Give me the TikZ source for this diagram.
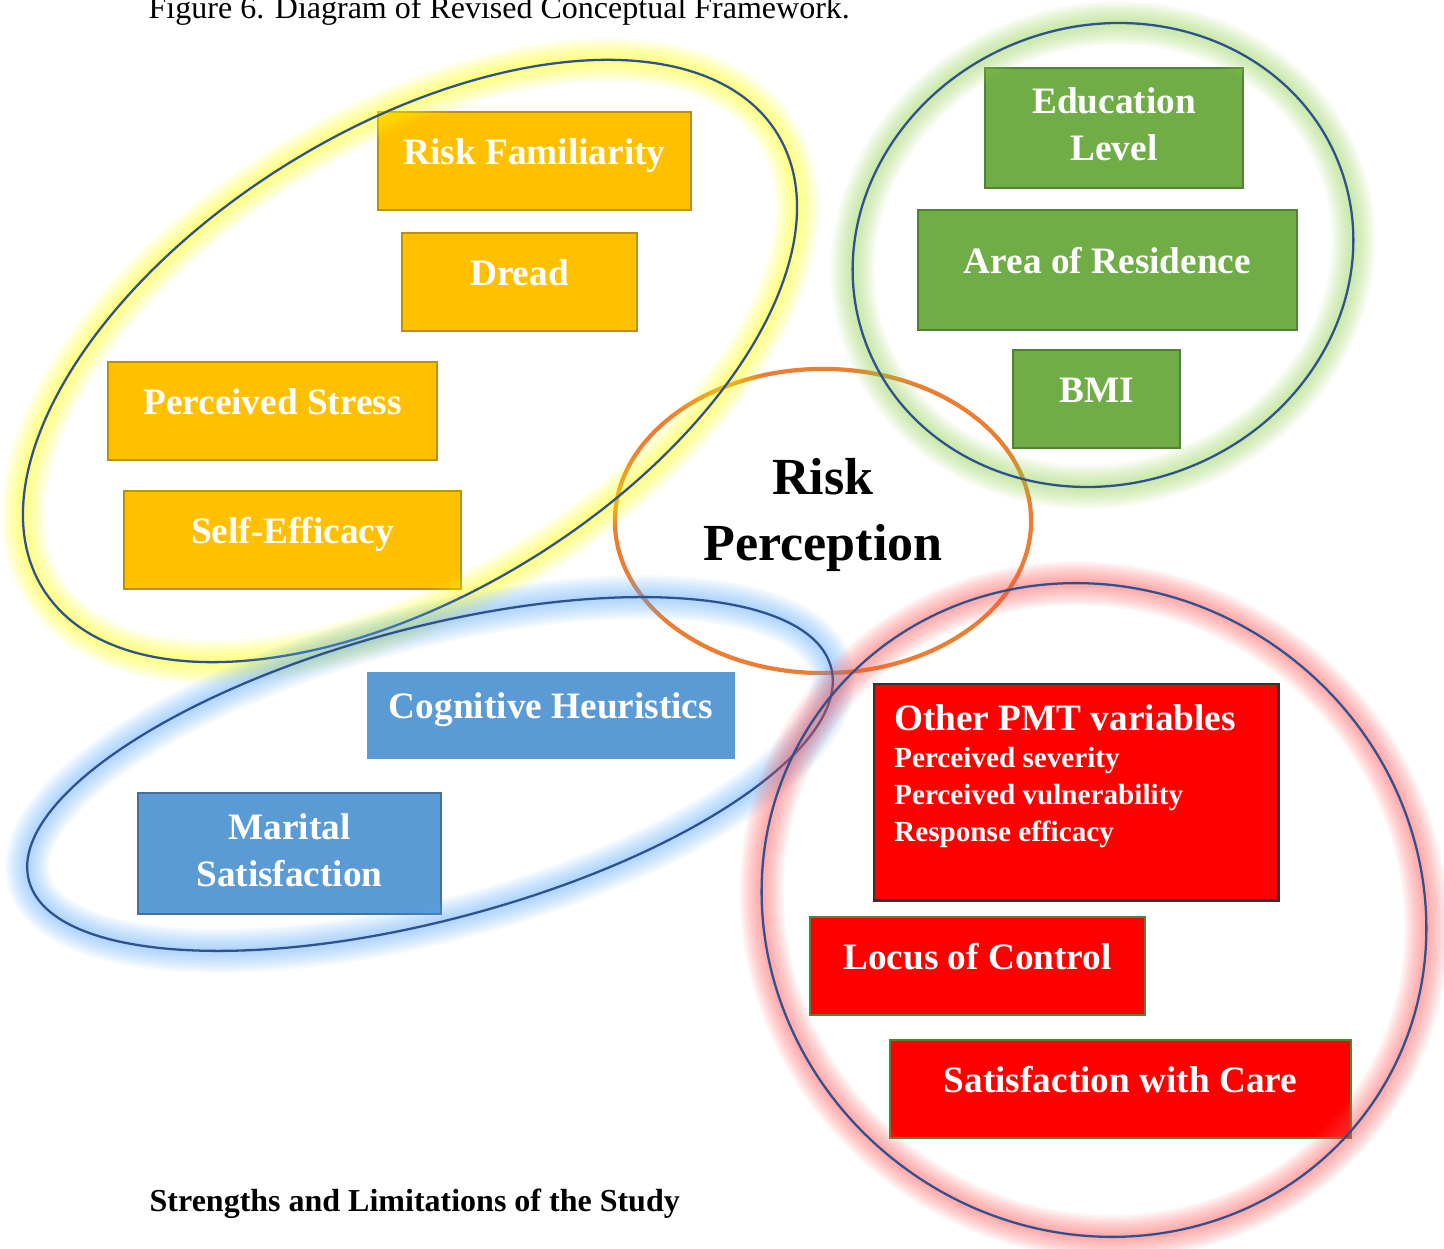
\documentclass[tikz,border=0pt]{standalone}
\usepackage{fontspec}
\setmainfont{Liberation Serif}
\usetikzlibrary{shapes.geometric}

\definecolor{gold}{RGB}{255,192,0}
\definecolor{goldline}{RGB}{191,144,0}
\definecolor{leaf}{RGB}{112,173,71}
\definecolor{leafline}{RGB}{84,130,53}
\definecolor{sky}{RGB}{91,155,213}
\definecolor{skyline}{RGB}{65,113,156}
\definecolor{pmtred}{RGB}{255,0,0}
\definecolor{rimblue}{RGB}{47,82,143}
\definecolor{rporange}{RGB}{237,125,49}
\definecolor{yglow}{RGB}{255,255,0}
\definecolor{gglow}{RGB}{146,208,80}
\definecolor{bglow}{RGB}{90,170,250}
\definecolor{rglow}{RGB}{255,80,80}

\newcommand{\lowerdp}[1]{\rule[-#1]{0pt}{#1}}

\begin{document}
\begin{tikzpicture}[x=0.01cm, y=-0.01cm,
  box/.style={draw, line width=0.7pt, text=white, inner sep=0pt, align=center,
    font=\fontsize{10.6}{13.4}\selectfont\bfseries,
    text height=7.4pt, text depth=5.6pt},
  two/.style={text height=, text depth=},
  ybox/.style={box, fill=gold, draw=goldline},
  gbox/.style={box, fill=leaf, draw=leafline},
  bbox/.style={box, fill=sky, draw=skyline},
  rbox/.style={box, fill=pmtred, draw=leafline},
  rim/.style={draw=rimblue, line width=0.65pt}]
\useasboundingbox (0,0) rectangle (1444,1249);

\node[ellipse, draw=rporange, line width=1.2pt, inner sep=0pt,
  minimum width=4.16cm, minimum height=3.04cm, align=center,
  font=\fontsize{14.8}{19}\selectfont\bfseries] (rp) at (823,521) {Risk\\Perception\lowerdp{6.6pt}};

% yellow group
\node[ybox, minimum width=3.13cm, minimum height=0.98cm] (fam) at (534.5,161) {Risk Familiarity};
\node[ybox, minimum width=2.35cm, minimum height=0.98cm] (dread) at (519.5,282) {Dread};
\node[ybox, minimum width=3.29cm, minimum height=0.98cm] (stress) at (272.5,411) {Perceived Stress};
\node[ybox, minimum width=3.37cm, minimum height=0.98cm] (eff) at (292.5,540) {Self-Efficacy};

% green group
\node[gbox, two, minimum width=2.58cm, minimum height=1.20cm] (edu) at (1114,128) {Education\\Level\lowerdp{2.3pt}};
\node[gbox, minimum width=3.79cm, minimum height=1.20cm] (area) at (1107.5,270) {Area of Residence};
\node[gbox, minimum width=1.67cm, minimum height=0.98cm] (bmi) at (1096.5,399) {BMI};

% blue group
\node[bbox, draw=none, minimum width=3.68cm, minimum height=0.87cm] (cog) at (551,715.5) {Cognitive Heuristics};
\node[bbox, two, minimum width=3.03cm, minimum height=1.21cm] (mar) at (289.5,853.5) {Marital\\Satisfaction\lowerdp{2pt}};

% red group
\node[rbox, two, draw=black!80, anchor=north west, inner xsep=0.2cm, inner ysep=0.2cm] (pmt) at (873,683)
  {\parbox[t][1.76cm][t]{3.64cm}{{\fontsize{10.6}{12}\selectfont Other PMT variables\par}
   \fontsize{8.3}{10.6}\selectfont Perceived severity\\Perceived vulnerability\\Response efficacy}};
\node[rbox, minimum width=3.35cm, minimum height=0.98cm] (loc) at (977.5,966) {Locus of Control};
\node[rbox, minimum width=4.61cm, minimum height=0.98cm] (care) at (1120.5,1089) {Satisfaction with Care};

% group outlines with glow
\foreach \col/\ang/\ax/\by/\cx/\cy in {yglow/31.8/432/232/410/361, gglow/20/253/229/1103/255,
    bglow/14.9/415/146/430/774, rglow/-36.6/339/320/1094/910} {
  \foreach \w in {4.4,4.0,...,0.4}
    \draw[\col, opacity=0.06, line width=\w mm, rotate around={\ang:(\cx,\cy)}]
      (\cx,\cy) ellipse [x radius=\ax, y radius=\by];
  \draw[rim, rotate around={\ang:(\cx,\cy)}] (\cx,\cy) ellipse [x radius=\ax, y radius=\by];
}

\node[anchor=base west, inner sep=0pt, font=\fontsize{9.1}{11}\selectfont] (cap) at (148,19)
  {Figure 6. Diagram of Revised Conceptual Framework.};
\node[anchor=base west, inner sep=0pt, font=\fontsize{9.1}{11}\selectfont\bfseries] (sec) at (149,1212)
  {Strengths and Limitations of the Study};
\end{tikzpicture}
\end{document}
